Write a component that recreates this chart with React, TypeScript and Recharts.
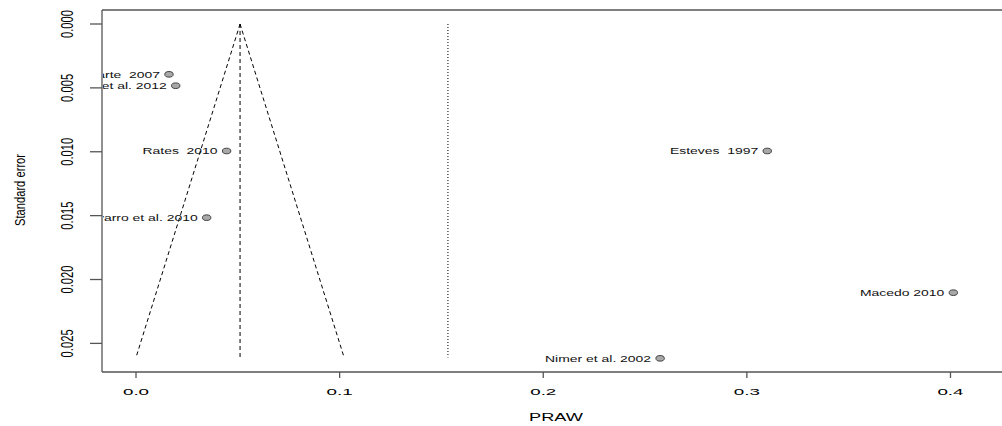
import React from "react"
import {
  ScatterChart, Scatter, XAxis, YAxis, ReferenceLine,
} from "recharts"

// studies in the funnel plot
const studies = [
  "Duarte  2007",
  "Souza et al. 2012",
  "Rates  2010",
  "Navarro et al. 2010",
  "Esteves  1997",
  "Macedo 2010",
  "Nimer et al. 2002",
]
const praw = [0.0162, 0.0195, 0.0445, 0.0347, 0.310, 0.4014, 0.2574]
const stdErr = [0.00394, 0.00483, 0.00994, 0.01516, 0.00994, 0.02103, 0.02617]

const xTicks = [0, 0.1, 0.2, 0.3, 0.4]
const yTicks = [0, 0.005, 0.01, 0.015, 0.02, 0.025]

// funnel: pooled estimate and its 95% limits at the largest SE
const pooled = 0.0511
const randomEst = 0.1532
const funnelSe = 0.0261
const funnelLeft = 0.0
const funnelRight = 0.1022

const X_DOMAIN: [number, number] = [-0.0167, 0.4253]
const Y_DOMAIN: [number, number] = [-0.001096, 0.02724]

const W = 1002
const H = 426
const PLOT_LEFT = 102
const PLOT_TOP = 10
const PLOT_BOTTOM = 372

const FONT = "'Liberation Sans', Arial, Helvetica, sans-serif"
const AXIS = "#555"

const points = studies.map((name, i) => ({ name, x: praw[i], y: stdErr[i] }))

function XTick({ x, payload }: any) {
  return (
    <text
      transform={`translate(${x},394.5) scale(2,1)`}
      textAnchor="middle"
      fontSize={9.4}
      fontFamily={FONT}
      fill="#000"
    >
      {Number(payload.value).toFixed(1)}
    </text>
  )
}

function YTick({ y, payload }: any) {
  return (
    <text
      transform={`translate(73,${y}) scale(1.45,1) rotate(-90)`}
      textAnchor="middle"
      fontSize={11.2}
      fontFamily={FONT}
      fill="#000"
    >
      {Number(payload.value).toFixed(3)}
    </text>
  )
}

function StudyPoint(props: any) {
  const { cx, cy, payload, index } = props
  const id = `clip-study-${index}`
  return (
    <g>
      <clipPath id={id}>
        <rect x={PLOT_LEFT + 1} y={PLOT_TOP} width={W - PLOT_LEFT} height={PLOT_BOTTOM - PLOT_TOP} />
      </clipPath>
      <g clipPath={`url(#${id})`}>
        <text
          transform={`translate(${cx - 9},${cy + 3.3}) scale(1.55,1)`}
          textAnchor="end"
          fontSize={9}
          fontFamily={FONT}
          fill="#111"
          style={{ whiteSpace: "pre" }}
        >
          {payload.name}
        </text>
      </g>
      <ellipse cx={cx} cy={cy} rx={4.2} ry={2.8} fill="#a8a8a8" stroke="#333" strokeWidth={0.9} />
    </g>
  )
}

export default function App() {
  return (
    <div style={{ position: "absolute", left: 0, top: 0, width: W, height: H, background: "#fff" }}>
      <ScatterChart width={W} height={H} margin={{ top: PLOT_TOP, right: 0, bottom: 0, left: 0 }}>
        <XAxis
          dataKey="x"
          type="number"
          domain={X_DOMAIN}
          allowDataOverflow
          ticks={xTicks}
          height={H - PLOT_BOTTOM}
          tickSize={6}
          stroke={AXIS}
          axisLine={{ stroke: AXIS, strokeWidth: 1.3 }}
          tickLine={{ stroke: AXIS, strokeWidth: 1.3 }}
          tick={<XTick />}
          label={{
            content: () => (
              <text
                transform="translate(556,421) scale(1.7,1)"
                textAnchor="middle"
                fontSize={10.7}
                fontFamily={FONT}
                fill="#000"
              >
                PRAW
              </text>
            ),
          }}
        />
        <YAxis
          dataKey="y"
          type="number"
          domain={Y_DOMAIN}
          allowDataOverflow
          reversed
          ticks={yTicks}
          width={PLOT_LEFT}
          tickSize={12}
          axisLine={{ stroke: AXIS, strokeWidth: 1.3 }}
          tickLine={{ stroke: AXIS, strokeWidth: 1.3 }}
          tick={<YTick />}
          label={{
            content: () => (
              <text
                transform="translate(25,190) scale(1.3,1) rotate(-90)"
                textAnchor="middle"
                fontSize={11.2}
                fontFamily={FONT}
                fill="#000"
              >
                Standard error
              </text>
            ),
          }}
        />
        <ReferenceLine y={Y_DOMAIN[0]} stroke={AXIS} strokeWidth={1.3} />
        <ReferenceLine
          segment={[{ x: pooled, y: 0 }, { x: funnelLeft, y: funnelSe }]}
          stroke="#000"
          strokeDasharray="4 3"
        />
        <ReferenceLine
          segment={[{ x: pooled, y: 0 }, { x: funnelRight, y: funnelSe }]}
          stroke="#000"
          strokeDasharray="4 3"
        />
        <ReferenceLine
          segment={[{ x: pooled, y: 0 }, { x: pooled, y: funnelSe }]}
          stroke="#000"
          strokeDasharray="4 3"
        />
        <ReferenceLine
          segment={[{ x: randomEst, y: 0 }, { x: randomEst, y: funnelSe }]}
          stroke="#000"
          strokeDasharray="1 2"
        />
        <Scatter data={points} shape={<StudyPoint />} isAnimationActive={false} />
      </ScatterChart>
    </div>
  )
}
